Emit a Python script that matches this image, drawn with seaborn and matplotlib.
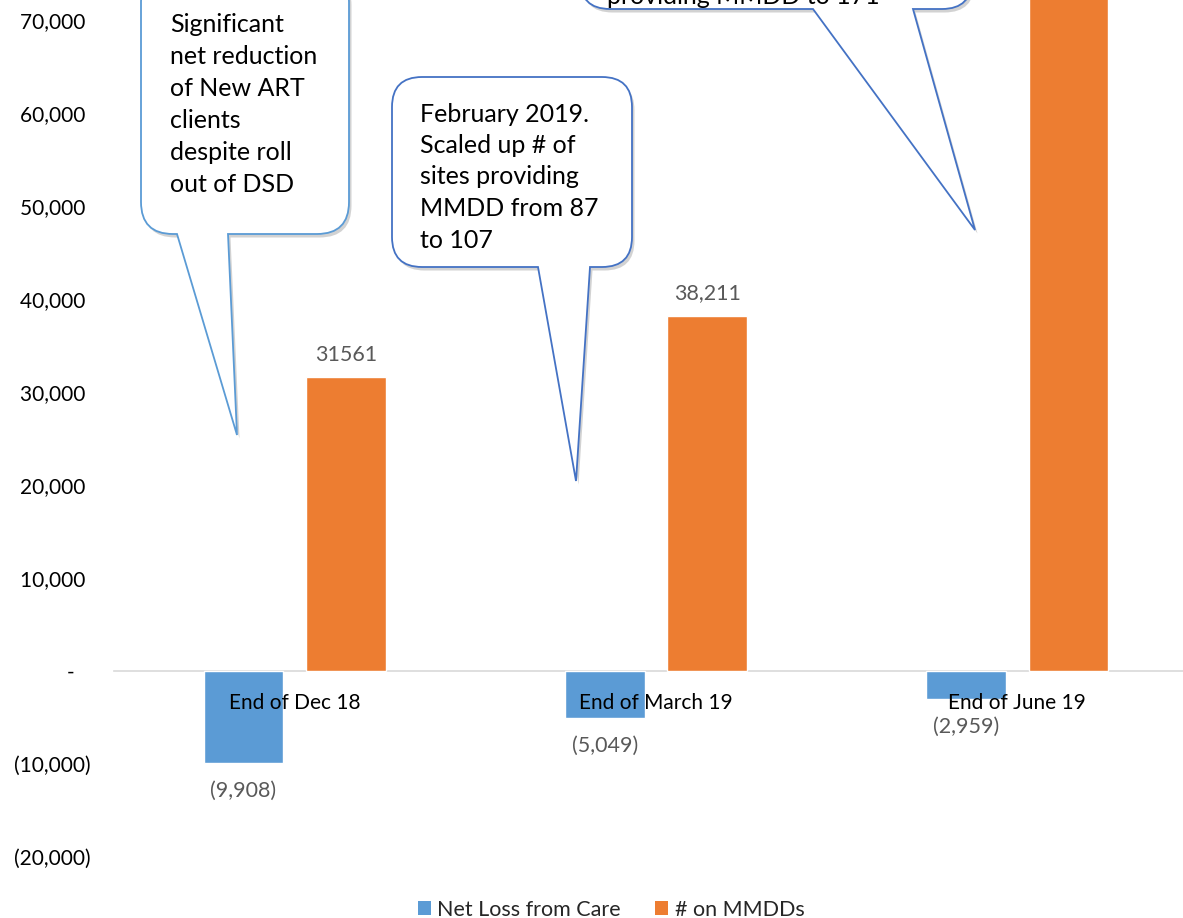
import matplotlib
matplotlib.use("Agg")
import matplotlib.pyplot as plt
import seaborn as sns
import pandas as pd
import numpy as np
from matplotlib.path import Path
from matplotlib.patches import PathPatch, Patch
from matplotlib.ticker import FuncFormatter

# ---------------- data ----------------
categories = ["End of Dec 18", "End of March 19", "End of June 19"]
series = ["Net Loss from Care", "# on MMDDs"]
net_loss = [-9908, -5049, -2959]
mmdds = [31561, 38211, 80000]  # third bar runs off the top of the picture (estimate)
net_loss_labels = ["(9,908)", "(5,049)", "(2,959)"]
mmdd_labels = ["31561", "38,211", ""]
yticks = [-20000, -10000, 0, 10000, 20000, 30000, 40000, 50000, 60000, 70000]

colors = {"Net Loss from Care": "#5B9BD5", "# on MMDDs": "#ED7D31"}

df = pd.DataFrame({
    "category": categories * 2,
    "series": [series[0]] * 3 + [series[1]] * 3,
    "value": net_loss + mmdds,
})

sns.set_theme(style="white")
plt.rcParams["font.family"] = ["Lato", "DejaVu Sans"]

W, H = 1183, 918
fig = plt.figure(figsize=(W / 100, H / 100), dpi=100)
fig.patch.set_facecolor("white")

ax = fig.add_axes([114 / W, 61 / H, (1198 - 114) / W, 857 / H])
sns.barplot(data=df, x="category", y="value", hue="series", order=categories,
            hue_order=series, palette=colors, width=0.566, gap=0.22,
            saturation=1, legend=False, ax=ax)
ax.set_axisbelow(False)
ax.set_xlim(-0.5, 2.5)
ax.set_ylim(-20000, 72150)
ax.set_facecolor("none")
ax.set_xlabel("")
ax.set_ylabel("")
for s in ["top", "right", "left"]:
    ax.spines[s].set_visible(False)
ax.spines["bottom"].set_position(("data", 0))
ax.spines["bottom"].set_color("#D9D9D9")
ax.spines["bottom"].set_linewidth(1.2)
ax.spines["bottom"].set_zorder(0.5)
ax.set_yticks(yticks)


def fmt(v, pos):
    v = int(round(v))
    if v == 0:
        return "-   "
    if v < 0:
        return f"({-v:,})"
    return f"{v:,} "


ax.yaxis.set_major_formatter(FuncFormatter(fmt))
ax.tick_params(axis="y", length=0, pad=17, labelsize=15, labelcolor="black")
ax.tick_params(axis="x", length=0, pad=16, labelsize=15, labelcolor="black")

ax.bar_label(ax.containers[0], labels=net_loss_labels, padding=13,
             fontsize=15.5, color="#595959")
ax.bar_label(ax.containers[1], labels=mmdd_labels, padding=9,
             fontsize=15.5, color="#595959")

# ---------------- callout bubbles (overlay in pixel coords) ----------------
ov = fig.add_axes([0, 0, 1, 1], zorder=5)
ov.set_xlim(0, W)
ov.set_ylim(H, 0)
ov.axis("off")
ov.patch.set_alpha(0)


def bubble(x0, y0, x1, y1, r, ta, tb, tip):
    verts = [
        (x0 + r, y0), (x1 - r, y0),
        (x1, y0), (x1, y0 + r),
        (x1, y1 - r),
        (x1, y1), (x1 - r, y1),
        (tb, y1), tip, (ta, y1),
        (x0 + r, y1),
        (x0, y1), (x0, y1 - r),
        (x0, y0 + r),
        (x0, y0), (x0 + r, y0),
        (x0 + r, y0),
    ]
    codes = [
        Path.MOVETO, Path.LINETO,
        Path.CURVE3, Path.CURVE3,
        Path.LINETO,
        Path.CURVE3, Path.CURVE3,
        Path.LINETO, Path.LINETO, Path.LINETO,
        Path.LINETO,
        Path.CURVE3, Path.CURVE3,
        Path.LINETO,
        Path.CURVE3, Path.CURVE3,
        Path.CLOSEPOLY,
    ]
    return Path(verts, codes)


def draw_bubble(path, edge):
    sh = Path(path.vertices + np.array([2.5, 3.5]), path.codes)
    ov.add_patch(PathPatch(sh, facecolor="#7F7F7F", edgecolor="none", alpha=0.35))
    ov.add_patch(PathPatch(path, facecolor="white", edgecolor=edge, lw=1.3))


draw_bubble(bubble(141, -30, 349, 234, 32, 177, 228, (237, 435)), "#5B9BD5")
draw_bubble(bubble(392, 77, 632, 267, 30, 538, 590, (576, 481)), "#4472C4")
draw_bubble(bubble(580, -80, 972, 9, 30, 813, 913, (975, 230)), "#4472C4")

b1 = ["Significant", "net reduction", "of New ART", "clients", "despite roll", "out of DSD"]
for i, t in enumerate(b1):
    ov.text(170, 24 + 32 * i, t, fontsize=18, va="center", ha="left", color="black")
b2 = ["February 2019.", "Scaled up # of", "sites providing", "MMDD from 87", "to 107"]
for i, t in enumerate(b2):
    ov.text(420, 114 + 31.5 * i, t, fontsize=18, va="center", ha="left", color="black")
ov.text(607, -3, "providing MMDD to 171", fontsize=18, va="center", ha="left", color="black")

# ---------------- legend ----------------
handles = [Patch(facecolor=colors[s], edgecolor="none") for s in series]
fig.legend(handles, series, loc="lower center", bbox_to_anchor=(611 / W, -0.023),
           ncol=2, frameon=False, fontsize=15.5, handlelength=0.6, handleheight=0.6,
           handletextpad=0.3, columnspacing=1.6)

fig.savefig("out.png", dpi=100, facecolor="white")
